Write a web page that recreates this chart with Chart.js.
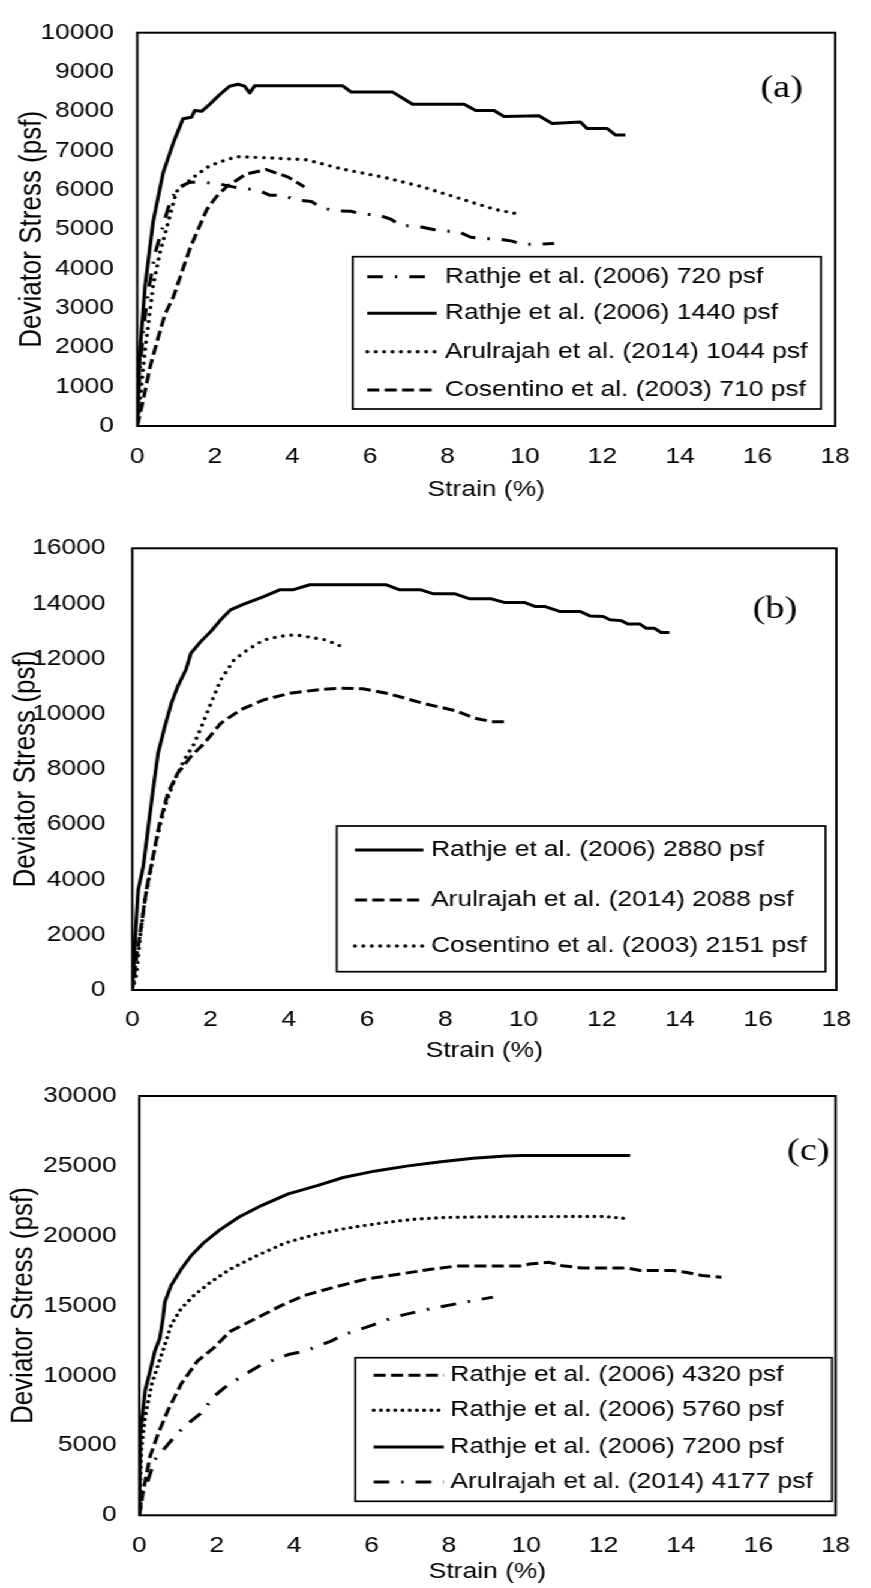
<!DOCTYPE html>
<html>
<head>
<meta charset="utf-8">
<script src="https://cdn.jsdelivr.net/npm/chart.js@4.4.1/dist/chart.umd.min.js"></script>
<style>
  html, body { margin: 0; padding: 0; background: #fff; overflow: hidden; width: 871px; height: 1588px; }
  /* the original figure is a bit wider than tall text would give, so stretch the drawing */
  #wrap { position: absolute; left: 0; top: 0; width: 726px; height: 1588px; transform: scaleX(1.2); transform-origin: 0 0; }
  canvas { position: absolute; left: 0; }
</style>
</head>
<body>
<div id="wrap">
  <canvas id="chartA" width="726" height="503" style="top:0px;width:726px;height:503px"></canvas>
  <canvas id="chartB" width="726" height="561" style="top:503px;width:726px;height:561px"></canvas>
  <canvas id="chartC" width="726" height="521" style="top:1064px;width:726px;height:521px"></canvas>
</div>
<script>
const FONT = "'Liberation Sans', Arial, sans-serif";

// ---- panel (a) ----
const strainA720 = [0, 0.05, 0.15, 0.28, 0.46, 0.8, 1.01, 1.36, 1.66, 2.09, 2.47, 2.73, 3.11, 3.41, 3.76, 4.1, 4.49, 4.74, 5.13, 5.51, 5.82, 6.16, 6.54, 6.8, 7.19, 7.57, 7.83, 8.26, 8.6, 8.9, 9.29, 9.67, 9.93, 10.3, 10.75];
const stressA720 = [0, 1200, 2400, 3400, 4390, 5550, 6040, 6200, 6200, 6160, 6080, 6040, 6000, 5870, 5860, 5750, 5710, 5550, 5470, 5460, 5380, 5380, 5260, 5090, 5090, 5010, 4950, 4950, 4800, 4760, 4760, 4700, 4620, 4620, 4640];
const strainA1440 = [0, 0.07, 0.2, 0.41, 0.67, 0.93, 1.18, 1.4, 1.48, 1.66, 1.87, 2.13, 2.38, 2.6, 2.77, 2.9, 3.03, 5.3, 5.52, 6.59, 7.1, 8.43, 8.73, 9.2, 9.46, 10.36, 10.7, 11.43, 11.6, 12.12, 12.33, 12.59];
const stressA1440 = [0, 1900, 3550, 5200, 6450, 7200, 7810, 7850, 8020, 8000, 8180, 8430, 8640, 8690, 8640, 8470, 8650, 8650, 8490, 8490, 8180, 8180, 8020, 8020, 7870, 7890, 7690, 7730, 7565, 7565, 7400, 7400];
const strainA1044 = [0, 0.2, 0.41, 0.58, 0.76, 1.01, 1.4, 1.87, 2.21, 2.56, 3.33, 4.36, 5.3, 6.33, 7.36, 8.3, 9.25, 9.89];
const stressA1044 = [0, 1920, 3570, 4390, 5050, 5960, 6290, 6620, 6740, 6850, 6820, 6770, 6530, 6330, 6080, 5790, 5500, 5380];
const strainA710 = [0, 0.16, 0.33, 0.54, 0.71, 0.93, 1.36, 1.79, 2.04, 2.3, 2.81, 3.33, 3.89, 4.31];
const stressA710 = [0, 700, 1500, 2250, 2830, 3280, 4520, 5500, 5830, 6080, 6410, 6520, 6330, 6080];

// ---- panel (b) ----
const strainB2880 = [0, 0.07, 0.15, 0.28, 0.41, 0.53, 0.66, 0.83, 1.0, 1.16, 1.37, 1.5, 1.75, 2.01, 2.26, 2.51, 2.85, 3.36, 3.78, 4.12, 4.54, 6.48, 6.82, 7.36, 7.7, 8.25, 8.63, 9.18, 9.51, 10.02, 10.31, 10.56, 10.94, 11.45, 11.7, 12.04, 12.21, 12.5, 12.67, 12.97, 13.14, 13.35, 13.52, 13.73];
const stressB2880 = [0, 1810, 3620, 4470, 5920, 7250, 8580, 9540, 10390, 10990, 11600, 12200, 12620, 12990, 13410, 13770, 13980, 14250, 14500, 14500, 14680, 14680, 14500, 14500, 14350, 14350, 14170, 14170, 14040, 14040, 13890, 13890, 13710, 13710, 13550, 13530, 13410, 13380, 13260, 13260, 13100, 13100, 12950, 12950];
const strainB2088 = [0, 0.11, 0.24, 0.36, 0.53, 0.7, 0.91, 1.16, 1.5, 1.84, 2.26, 2.77, 3.36, 4.03, 4.71, 5.3, 5.89, 6.57, 7.42, 8.25, 8.75, 9.18, 9.6];
const stressB2088 = [0, 1210, 2420, 3620, 4830, 6040, 7130, 7850, 8460, 8940, 9660, 10150, 10510, 10750, 10870, 10930, 10910, 10730, 10390, 10120, 9850, 9720, 9720];
const strainB2151 = [0, 0.11, 0.19, 0.32, 0.45, 0.62, 0.83, 1.08, 1.33, 1.59, 1.84, 2.01, 2.26, 2.6, 2.94, 3.36, 3.78, 4.16, 4.54, 4.96, 5.3];
const stressB2151 = [0, 600, 1810, 3260, 4230, 5440, 6640, 7610, 8340, 8940, 9790, 10390, 11230, 11960, 12320, 12680, 12810, 12870, 12780, 12680, 12470];

// ---- panel (c) ----
const strainC4320 = [0, 0.11, 0.28, 0.49, 0.74, 1.08, 1.5, 1.92, 2.34, 3.01, 3.68, 4.27, 5.02, 5.86, 6.7, 7.54, 8.21, 9.89, 10.09, 10.6, 10.93, 11.44, 12.61, 12.95, 13.79, 14.12, 14.54, 15.05];
const stressC4320 = [0, 1880, 4230, 5870, 7510, 9390, 11030, 11970, 13140, 14080, 15020, 15730, 16310, 16900, 17250, 17600, 17840, 17840, 17980, 18100, 17860, 17700, 17700, 17510, 17510, 17390, 17160, 17040];
const strainC5760 = [0, 0.05, 0.15, 0.32, 0.49, 0.66, 0.82, 1.08, 1.41, 1.83, 2.34, 3.01, 3.76, 4.52, 5.36, 6.2, 7.04, 7.88, 9.05, 12.03, 12.61];
const stressC5760 = [0, 4690, 7040, 9390, 10800, 12200, 13610, 14790, 15730, 16660, 17600, 18540, 19480, 20070, 20540, 20890, 21170, 21310, 21360, 21380, 21220];
const strainC7200 = [0, 0.03, 0.15, 0.28, 0.4, 0.53, 0.61, 0.66, 0.82, 1.08, 1.33, 1.66, 2.08, 2.59, 3.17, 3.85, 4.6, 5.27, 6.11, 6.95, 7.8, 8.63, 9.47, 9.89, 12.69];
const stressC7200 = [0, 5870, 8920, 10330, 11740, 12670, 14080, 15260, 16430, 17600, 18540, 19480, 20420, 21360, 22180, 23000, 23590, 24170, 24640, 25000, 25300, 25540, 25700, 25750, 25750];
const strainC4177 = [0, 0.07, 0.15, 0.4, 0.66, 0.91, 1.16, 1.58, 1.96, 2.21, 2.67, 3.17, 3.85, 4.27, 4.94, 5.27, 6.03, 6.62, 7.33, 8.21, 9.14];
const stressC4177 = [0, 1640, 1880, 3990, 4810, 5630, 6340, 7280, 8570, 9150, 9980, 10800, 11500, 11740, 12440, 12910, 13610, 14200, 14670, 15140, 15610];

const pts = (xs, ys) => xs.map((x, i) => ({ x: x, y: ys[i] }));

const LINE = {
  solid: { borderDash: [] },
  dashed: { borderDash: [10, 4.5] },
  dotted: { borderDash: [0, 7], borderCapStyle: 'round', borderWidth: 3.4 },
  dotted6: { borderDash: [0, 6], borderCapStyle: 'round', borderWidth: 3.4 },
  dashdot: { borderDash: [13, 10, 2, 10] }
};

function series(label, xs, ys, style) {
  return Object.assign({
    label: label,
    data: pts(xs, ys),
    borderColor: '#000',
    borderWidth: 3,
    borderCapStyle: 'butt',
    borderJoinStyle: 'round',
    pointRadius: 0,
    fill: false,
    tension: 0
  }, LINE[style]);
}

// frame, inside legend and the (a)/(b)/(c) tag
const panelDeco = {
  id: 'panelDeco',
  afterDatasetsDraw(chart, args, o) {
    const ctx = chart.ctx, a = chart.chartArea;
    ctx.save();
    ctx.setLineDash([]);
    ctx.strokeStyle = '#000';
    ctx.lineWidth = 2;
    ctx.strokeRect(a.left, a.top, a.right - a.left, a.bottom - a.top);

    const [x1, y1, x2, y2] = o.box;
    ctx.fillStyle = '#fff';
    ctx.fillRect(x1, y1, x2 - x1, y2 - y1);
    ctx.lineWidth = 1.7;
    ctx.strokeRect(x1, y1, x2 - x1, y2 - y1);

    ctx.font = '22px ' + FONT;
    ctx.textBaseline = 'middle';
    ctx.textAlign = 'left';
    chart.data.datasets.forEach((ds, i) => {
      const y = o.rows[i];
      ctx.beginPath();
      ctx.setLineDash(ds.borderDash || []);
      ctx.lineCap = ds.borderCapStyle || 'butt';
      ctx.lineWidth = ds.borderWidth;
      ctx.moveTo(o.sample[0], y);
      ctx.lineTo(o.sample[1], y);
      ctx.stroke();
      ctx.fillStyle = '#000';
      ctx.fillText(ds.label, o.textX, y);
    });

    ctx.font = "32px 'Liberation Serif', 'Times New Roman', serif";
    ctx.textAlign = 'center';
    ctx.fillText(o.tag, o.tagPos[0], o.tagPos[1]);
    ctx.restore();
  }
};

function makeChart(id, datasets, yMax, yStep, lay, deco) {
  return new Chart(document.getElementById(id), {
    type: 'line',
    data: { datasets: datasets },
    plugins: [panelDeco],
    options: {
      responsive: false,
      animation: false,
      layout: { padding: { top: lay.top, right: lay.right, left: 0, bottom: 0 } },
      plugins: { legend: { display: false }, tooltip: { enabled: false }, panelDeco: deco },
      scales: {
        x: {
          type: 'linear', min: 0, max: 18,
          grid: { display: false, drawTicks: false },
          border: { display: false },
          ticks: { stepSize: 2, color: '#000', font: { family: FONT, size: 22 }, padding: lay.xTickPad, maxRotation: 0,
                   callback: (v) => String(v) },
          title: { display: true, text: 'Strain (%)', color: '#000', font: { family: FONT, size: 22 }, padding: { top: 0, bottom: 0 } },
          afterFit: (s) => { s.height = lay.xHeight; }
        },
        y: {
          type: 'linear', min: 0, max: yMax,
          grid: { display: false, drawTicks: false },
          border: { display: false },
          ticks: { stepSize: yStep, color: '#000', font: { family: FONT, size: 22 }, padding: lay.yTickPad,
                   callback: (v) => String(v) },
          title: { display: true, text: 'Deviator Stress (psf)', color: '#000', font: { family: FONT, size: 26 }, padding: { top: lay.yTitlePad, bottom: 0 } },
          afterFit: (s) => { s.width = lay.yWidth; }
        }
      }
    }
  });
}

makeChart('chartA', [
  series('Rathje et al. (2006) 720 psf', strainA720, stressA720, 'dashdot'),
  series('Rathje et al. (2006) 1440 psf', strainA1440, stressA1440, 'solid'),
  series('Arulrajah et al. (2014) 1044 psf', strainA1044, stressA1044, 'dotted'),
  series('Cosentino et al. (2003) 710 psf', strainA710, stressA710, 'dashed')
], 10000, 1000,
  { top: 21.5, right: 28, yWidth: 114.4, xHeight: 77, yTickPad: 19.5, xTickPad: 17.8, yTitlePad: 11 },
  { box: [293.9, 256.7, 684.2, 409], rows: [276.7, 313.3, 351.7, 390], sample: [306.1, 363.9], textX: 370.8, tag: '(a)', tagPos: [651.4, 88.3] });

makeChart('chartB', [
  series('Rathje et al. (2006) 2880 psf', strainB2880, stressB2880, 'solid'),
  series('Arulrajah et al. (2014) 2088 psf', strainB2088, stressB2088, 'dashed'),
  series('Cosentino et al. (2003) 2151 psf', strainB2151, stressB2151, 'dotted')
], 16000, 2000,
  { top: 45.3, right: 22.7, yWidth: 110.25, xHeight: 74, yTickPad: 22.2, xTickPad: 16.8, yTitlePad: 6.6 },
  { box: [280.6, 323, 687.9, 468.7], rows: [347, 397, 443], sample: [295.8, 352.8], textX: 359.2, tag: '(b)', tagPos: [645.8, 107] });

makeChart('chartC', [
  series('Rathje et al. (2006) 4320 psf', strainC4320, stressC4320, 'dashed'),
  series('Rathje et al. (2006) 5760 psf', strainC5760, stressC5760, 'dotted6'),
  series('Rathje et al. (2006) 7200 psf', strainC7200, stressC7200, 'solid'),
  series('Arulrajah et al. (2014) 4177 psf', strainC4177, stressC4177, 'dashdot')
], 30000, 5000,
  { top: 25.3, right: 14.3, yWidth: 116.1, xHeight: 69.7, yTickPad: 18.8, xTickPad: 17.4, yTitlePad: 4.4 },
  { box: [296.1, 293.7, 693.3, 437.3], rows: [311.3, 346.3, 383, 418], sample: [311.4, 369.8], textX: 375.3, tag: '(c)', tagPos: [673.6, 87.7] });
</script>
</body>
</html>
